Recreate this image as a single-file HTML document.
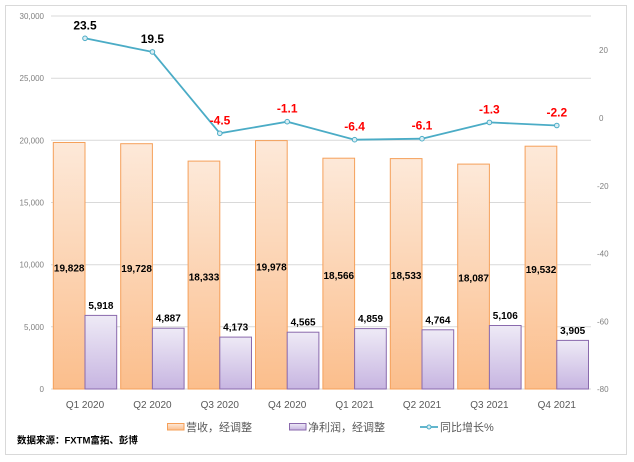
<!DOCTYPE html>
<html><head><meta charset="utf-8"><style>
html,body{margin:0;padding:0;background:#fff;}
svg{display:block;}
text{font-family:"Liberation Sans","Noto Sans CJK SC",sans-serif;}
</style></head><body>
<svg width="634" height="462" viewBox="0 0 634 462" xmlns="http://www.w3.org/2000/svg">
<defs>
<linearGradient id="og" x1="0" y1="0" x2="0" y2="1">
<stop offset="0" stop-color="#fde9d9"/><stop offset="1" stop-color="#fbbe8c"/>
</linearGradient>
<linearGradient id="pg" x1="0" y1="0" x2="0" y2="1">
<stop offset="0" stop-color="#eeeaf6"/><stop offset="1" stop-color="#c7b5e1"/>
</linearGradient>
</defs>
<rect x="5.5" y="5.5" width="621" height="449" fill="#fff" stroke="#d9d9d9" stroke-width="1"/>
<g stroke="#d9d9d9" stroke-width="1">
<line x1="51" y1="16" x2="591" y2="16"/>
<line x1="51" y1="78.2" x2="591" y2="78.2"/>
<line x1="51" y1="140.3" x2="591" y2="140.3"/>
<line x1="51" y1="202.5" x2="591" y2="202.5"/>
<line x1="51" y1="264.7" x2="591" y2="264.7"/>
<line x1="51" y1="326.8" x2="591" y2="326.8"/>
<line x1="51" y1="389" x2="591" y2="389"/>
</g>
<g font-size="8" fill="#7f7f7f" text-anchor="end">
<text x="44" y="19">30,000</text>
<text x="44" y="81.2">25,000</text>
<text x="44" y="143.3">20,000</text>
<text x="44" y="205.5">15,000</text>
<text x="44" y="267.7">10,000</text>
<text x="44" y="329.8">5,000</text>
<text x="44" y="392">0</text>
</g>
<g font-size="8" fill="#7f7f7f" text-anchor="start">
<text x="599" y="53.2">20</text>
<text x="599" y="121">0</text>
<text x="597" y="188.8">-20</text>
<text x="597" y="256.6">-40</text>
<text x="597" y="324.4">-60</text>
<text x="597" y="392.2">-80</text>
</g>
<g fill="url(#og)" stroke="#f5a05a" stroke-width="1">
<rect x="53.3" y="142.5" width="31.7" height="246.5"/>
<rect x="120.7" y="143.7" width="31.7" height="245.3"/>
<rect x="188.1" y="161.1" width="31.7" height="227.9"/>
<rect x="255.5" y="140.6" width="31.7" height="248.4"/>
<rect x="322.9" y="158.2" width="31.7" height="230.8"/>
<rect x="390.3" y="158.6" width="31.7" height="230.4"/>
<rect x="457.7" y="164.1" width="31.7" height="224.9"/>
<rect x="525.1" y="146.2" width="31.7" height="242.8"/>
</g>
<g fill="url(#pg)" stroke="#8a6aad" stroke-width="1">
<rect x="85" y="315.4" width="31.7" height="73.6"/>
<rect x="152.4" y="328.2" width="31.7" height="60.8"/>
<rect x="219.8" y="337.1" width="31.7" height="51.9"/>
<rect x="287.2" y="332.2" width="31.7" height="56.8"/>
<rect x="354.6" y="328.6" width="31.7" height="60.4"/>
<rect x="422" y="329.8" width="31.7" height="59.2"/>
<rect x="489.4" y="325.5" width="31.7" height="63.5"/>
<rect x="556.8" y="340.4" width="31.7" height="48.6"/>
</g>
<g font-size="10" font-weight="bold" fill="#000" text-anchor="middle">
<text x="69.2" y="271.5">19,828</text>
<text x="136.6" y="272">19,728</text>
<text x="204" y="280.5">18,333</text>
<text x="271.4" y="270.5">19,978</text>
<text x="338.8" y="279">18,566</text>
<text x="406.2" y="279">18,533</text>
<text x="473.6" y="281.5">18,087</text>
<text x="541" y="273">19,532</text>
<text x="100.9" y="309">5,918</text>
<text x="168.3" y="321.7">4,887</text>
<text x="235.7" y="330.6">4,173</text>
<text x="303.1" y="325.7">4,565</text>
<text x="370.5" y="322.1">4,859</text>
<text x="437.9" y="323.3">4,764</text>
<text x="505.3" y="319">5,106</text>
<text x="572.7" y="333.9">3,905</text>
</g>
<polyline fill="none" stroke="#4bacc6" stroke-width="1.8" points="85,38.3 152.4,51.9 219.8,133.3 287.2,121.7 354.6,139.7 422,138.7 489.4,122.4 556.8,125.5"/>
<g fill="#dbeef4" stroke="#4bacc6" stroke-width="1">
<circle cx="85" cy="38.3" r="2.3"/>
<circle cx="152.4" cy="51.9" r="2.3"/>
<circle cx="219.8" cy="133.3" r="2.3"/>
<circle cx="287.2" cy="121.7" r="2.3"/>
<circle cx="354.6" cy="139.7" r="2.3"/>
<circle cx="422" cy="138.7" r="2.3"/>
<circle cx="489.4" cy="122.4" r="2.3"/>
<circle cx="556.8" cy="125.5" r="2.3"/>
</g>
<g font-size="12" font-weight="bold" text-anchor="middle">
<text x="85" y="29.5" fill="#000">23.5</text>
<text x="152.4" y="43" fill="#000">19.5</text>
<text x="220" y="124.3" fill="#ff0000">-4.5</text>
<text x="287.2" y="112.7" fill="#ff0000">-1.1</text>
<text x="354.6" y="130.7" fill="#ff0000">-6.4</text>
<text x="422" y="129.7" fill="#ff0000">-6.1</text>
<text x="489.4" y="113.4" fill="#ff0000">-1.3</text>
<text x="556.8" y="116.5" fill="#ff0000">-2.2</text>
</g>
<g font-size="10" fill="#595959" text-anchor="middle">
<text x="85" y="408">Q1 2020</text>
<text x="152.4" y="408">Q2 2020</text>
<text x="219.8" y="408">Q3 2020</text>
<text x="287.2" y="408">Q4 2020</text>
<text x="354.6" y="408">Q1 2021</text>
<text x="422" y="408">Q2 2021</text>
<text x="489.4" y="408">Q3 2021</text>
<text x="556.8" y="408">Q4 2021</text>
</g>
<rect x="167.5" y="423.5" width="16.5" height="6.5" fill="url(#og)" stroke="#f5a05a"/>
<text x="186" y="431" font-size="11" fill="#595959">营收，经调整</text>
<rect x="289.5" y="423.5" width="16.5" height="6.5" fill="url(#pg)" stroke="#8a6aad"/>
<text x="308" y="431" font-size="11" fill="#595959">净利润，经调整</text>
<line x1="420" y1="427" x2="438" y2="427" stroke="#4bacc6" stroke-width="1.8"/>
<circle cx="429" cy="427" r="2" fill="#dbeef4" stroke="#4bacc6"/>
<text x="440" y="431" font-size="11" fill="#595959">同比增长%</text>
<text x="17" y="443.5" font-size="9.5" font-weight="bold" fill="#000">数据来源：FXTM富拓、彭博</text>
</svg>
</body></html>
